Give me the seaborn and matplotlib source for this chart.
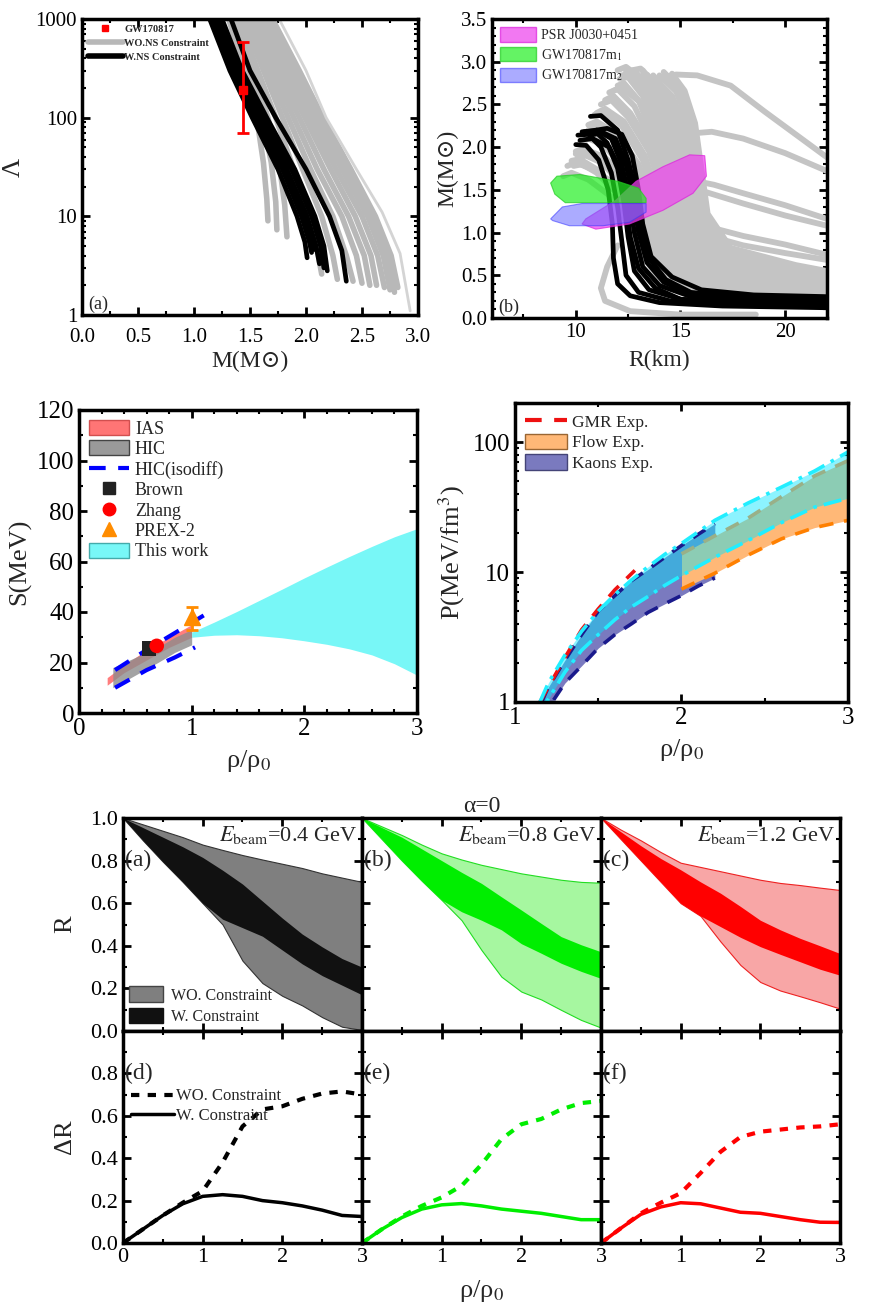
import pandas as pd
import seaborn as sns
import matplotlib.pyplot as plt
from matplotlib.patches import Patch
from matplotlib.lines import Line2D
from matplotlib.ticker import MultipleLocator, LogLocator, NullFormatter

# ---------------- data: (a) Lambda vs M ----------------
lam_gray = [
    ([1.31, 1.45, 1.56, 1.62, 1.65, 1.66], [1000, 300, 100, 35, 15, 9.0]),
    ([1.34, 1.49, 1.61, 1.69, 1.73, 1.74], [1000, 300, 100, 35, 14, 7.3]),
    ([1.37, 1.53, 1.66, 1.76, 1.81, 1.83], [1000, 300, 100, 35, 13, 6.2]),
    ([1.40, 1.57, 1.73, 1.89, 2.03, 2.11, 2.14], [1000, 300, 100, 30, 10, 4.0, 2.6]),
    ([1.44, 1.62, 1.79, 1.97, 2.14, 2.24, 2.28], [1000, 300, 100, 30, 10, 4.0, 2.3]),
    ([1.47, 1.66, 1.84, 2.04, 2.24, 2.36, 2.42], [1000, 300, 100, 30, 10, 4.0, 2.2]),
    ([1.50, 1.70, 1.89, 2.10, 2.32, 2.45, 2.50], [1000, 300, 100, 30, 10, 4.0, 2.1]),
    ([1.53, 1.74, 1.94, 2.16, 2.38, 2.52, 2.57], [1000, 300, 100, 30, 10, 4.0, 2.0]),
    ([1.56, 1.78, 1.99, 2.22, 2.44, 2.58, 2.63], [1000, 300, 100, 30, 10, 4.0, 2.0]),
    ([1.59, 1.82, 2.03, 2.27, 2.50, 2.64, 2.70], [1000, 300, 100, 30, 10, 4.0, 1.9]),
    ([1.62, 1.86, 2.07, 2.32, 2.55, 2.69, 2.75], [1000, 300, 100, 30, 10, 4.0, 1.8]),
    ([1.66, 1.90, 2.11, 2.36, 2.59, 2.73, 2.79], [1000, 300, 100, 30, 10, 4.0, 1.7]),
    ([1.70, 1.94, 2.15, 2.40, 2.62, 2.76, 2.82], [1000, 300, 100, 30, 10, 4.0, 1.9]),
]
lam_light = ([1.76, 2.00, 2.18, 2.45, 2.68, 2.84, 2.93], [1000, 300, 100, 30, 11, 4.2, 1.1])
lam_black = [
    ([1.14, 1.32, 1.52, 1.75, 1.92, 1.99, 2.01], [1000, 300, 100, 30, 10, 5.5, 3.8]),
    ([1.17, 1.35, 1.55, 1.79, 1.96, 2.03, 2.05], [1000, 300, 100, 30, 10, 5.5, 4.3]),
    ([1.19, 1.37, 1.57, 1.81, 1.98, 2.05, 2.07], [1000, 300, 100, 30, 10, 5.5, 4.6]),
    ([1.20, 1.38, 1.59, 1.83, 2.01, 2.09, 2.12], [1000, 300, 100, 30, 10, 5.0, 3.3]),
    ([1.22, 1.41, 1.62, 1.87, 2.05, 2.13, 2.16], [1000, 300, 100, 30, 10, 5.0, 3.0]),
    ([1.25, 1.43, 1.65, 1.90, 2.08, 2.16, 2.19], [1000, 300, 100, 30, 10, 5.0, 2.8]),
    ([1.33, 1.50, 1.73, 2.00, 2.21, 2.32, 2.36], [1000, 300, 100, 30, 10, 4.5, 2.2]),
]
gw_mass, gw_lam, gw_lo, gw_hi = 1.44, 190, 120, 390

# ---------------- data: (b) M vs R ----------------
mr_gray = [
    ([22, 16.5, 14.2, 13.2, 12.6, 11.8, 10.6, 9.8, 9.4], [0.26, 0.29, 0.40, 0.72, 1.05, 1.40, 1.62, 1.70, 1.66]),
    ([22, 16.8, 14.4, 13.3, 12.7, 12.0, 11.0, 10.2, 9.8], [0.29, 0.32, 0.43, 0.76, 1.12, 1.48, 1.74, 1.86, 1.84]),
    ([22, 17, 14.8, 13.6, 13.0, 12.2, 11.0, 10.0, 9.6], [0.30, 0.33, 0.45, 0.80, 1.20, 1.50, 1.72, 1.82, 1.78]),
    ([22, 17, 14.6, 13.4, 12.8, 12.0, 11.0, 10.3, 9.9], [0.28, 0.30, 0.42, 0.75, 1.10, 1.45, 1.70, 1.80, 1.78]),
    ([22, 16.8, 14.6, 13.5, 12.9, 12.2, 11.2, 10.4, 10.0], [0.29, 0.32, 0.44, 0.80, 1.18, 1.55, 1.84, 1.95, 1.92]),
    ([22, 17, 14.9, 13.7, 13.1, 12.4, 11.4, 10.5, 10.1], [0.27, 0.31, 0.44, 0.78, 1.15, 1.52, 1.80, 1.90, 1.88]),
    ([22, 17.2, 15.0, 13.8, 13.2, 12.5, 11.4, 10.4, 10.0], [0.31, 0.34, 0.47, 0.85, 1.25, 1.60, 1.88, 1.98, 1.95]),
    ([22, 17.4, 15.1, 13.9, 13.3, 12.6, 11.5, 10.8, 10.4], [0.31, 0.35, 0.48, 0.88, 1.28, 1.66, 1.98, 2.12, 2.08]),
    ([22, 17.5, 15.2, 14.0, 13.5, 12.8, 11.6, 10.6, 10.2], [0.32, 0.36, 0.50, 0.90, 1.30, 1.70, 2.00, 2.10, 2.05]),
    ([22, 17.8, 15.3, 14.1, 13.6, 12.9, 11.9, 11.0, 10.6], [0.33, 0.37, 0.51, 0.92, 1.35, 1.75, 2.10, 2.25, 2.20]),
    ([22, 18, 15.4, 14.2, 13.6, 13.0, 12.0, 11.0, 10.6], [0.34, 0.38, 0.52, 0.95, 1.40, 1.80, 2.15, 2.30, 2.26]),
    ([22, 17.9, 15.5, 14.3, 13.8, 13.2, 12.2, 11.3, 10.9], [0.34, 0.39, 0.53, 0.97, 1.42, 1.85, 2.25, 2.42, 2.38]),
    ([22, 18, 15.6, 14.4, 13.9, 13.3, 12.3, 11.4, 11.0], [0.35, 0.40, 0.55, 1.00, 1.45, 1.90, 2.30, 2.45, 2.40]),
    ([22, 18.2, 15.7, 14.6, 14.1, 13.5, 12.5, 11.7, 11.2], [0.37, 0.42, 0.57, 1.02, 1.50, 1.95, 2.35, 2.55, 2.50]),
    ([22, 18.4, 15.9, 14.7, 14.2, 13.7, 12.8, 12.0, 11.6], [0.37, 0.42, 0.59, 1.04, 1.52, 2.02, 2.48, 2.68, 2.64]),
    ([22, 18, 15.8, 14.9, 14.4, 13.6, 12.6, 11.8, 11.4], [0.40, 0.45, 0.60, 1.00, 1.50, 2.00, 2.40, 2.60, 2.55]),
    ([22, 18, 15.9, 15.0, 14.6, 14.0, 13.2, 12.2, 11.8], [0.36, 0.41, 0.58, 1.00, 1.48, 2.05, 2.50, 2.70, 2.66]),
    ([22, 18.5, 16, 14.8, 14.3, 13.8, 13.0, 12.3, 12.0], [0.38, 0.43, 0.60, 1.05, 1.55, 2.05, 2.55, 2.75, 2.72]),
    ([22, 18.7, 16.1, 15.0, 14.5, 14.0, 13.2, 12.5, 12.1], [0.40, 0.45, 0.62, 1.07, 1.57, 2.10, 2.60, 2.82, 2.80]),
    ([22, 18.9, 16.2, 15.1, 14.7, 14.2, 13.4, 12.6, 12.2], [0.41, 0.46, 0.64, 1.09, 1.59, 2.13, 2.62, 2.86, 2.84]),
    ([22, 19, 16.3, 15.2, 14.8, 14.3, 13.6, 12.8, 12.4], [0.42, 0.47, 0.65, 1.10, 1.60, 2.15, 2.65, 2.90, 2.88]),
    ([22, 19, 16.2, 15.3, 14.9, 14.5, 13.8, 12.9], [0.43, 0.49, 0.66, 1.08, 1.58, 2.12, 2.62, 2.86]),
    ([22, 19, 16.4, 15.4, 15.0, 14.4, 13.4, 12.4, 12.0], [0.44, 0.50, 0.68, 1.10, 1.60, 2.20, 2.75, 2.94, 2.90]),
    ([22, 19.2, 16.5, 15.4, 15.0, 14.6, 13.9, 13.1, 12.7], [0.45, 0.50, 0.68, 1.12, 1.62, 2.18, 2.68, 2.92, 2.90]),
    ([22, 19.4, 16.6, 15.6, 15.2, 14.7, 14.0, 13.2], [0.46, 0.52, 0.70, 1.14, 1.64, 2.20, 2.66, 2.90]),
    ([22, 19.5, 16.6, 15.6, 15.2, 14.8, 14.2, 13.4, 13.0], [0.46, 0.52, 0.70, 1.15, 1.65, 2.20, 2.65, 2.85, 2.82]),
    ([22, 19.7, 16.8, 15.8, 15.4, 15.0, 14.4, 13.7], [0.48, 0.54, 0.72, 1.17, 1.68, 2.22, 2.62, 2.84]),
    ([22, 20, 17, 16.0, 15.6, 15.2, 14.6, 13.8], [0.50, 0.56, 0.75, 1.20, 1.70, 2.25, 2.60, 2.80]),
    ([22, 20.2, 17.1, 16.1, 15.8, 15.4, 14.8, 14.0], [0.52, 0.58, 0.78, 1.20, 1.72, 2.27, 2.65, 2.84]),
    ([22, 20, 17.2, 16.2, 15.9, 15.5, 14.9, 14.2], [0.54, 0.60, 0.80, 1.20, 1.75, 2.30, 2.70, 2.88]),
    ([22, 20.5, 17.4, 16.3, 16.0, 15.7, 15.2, 14.6], [0.55, 0.62, 0.82, 1.22, 1.75, 2.28, 2.66, 2.86]),
    ([22, 19, 17.4, 15.8, 14.8, 13.8, 13.0], [1.88, 2.42, 2.72, 2.84, 2.85, 2.80, 2.72]),
    ([22, 20, 18, 16.5, 15.5, 14.5], [1.72, 1.93, 2.10, 2.18, 2.16, 2.08]),
    ([22, 20, 18, 16.6, 15.8], [1.16, 1.32, 1.46, 1.56, 1.60]),
    ([22, 20, 18, 16.4, 15.6], [1.08, 1.20, 1.34, 1.46, 1.52]),
    ([22, 20, 18, 16.6], [0.74, 0.86, 0.96, 1.05]),
    ([22, 20, 18, 16.5], [0.68, 0.76, 0.85, 0.95]),
    ([18.6, 15.0, 12.6, 11.4, 11.2, 11.5, 12.0], [0.04, 0.04, 0.08, 0.20, 0.35, 0.60, 0.85]),
]
mr_black = [
    ([22, 17, 14, 12.6, 12.0, 11.8, 11.75, 11.55, 11.1, 10.5, 10.0], [0.12, 0.14, 0.18, 0.26, 0.40, 0.70, 1.10, 1.50, 1.85, 2.02, 2.03]),
    ([22, 17, 14.5, 13.0, 12.4, 12.2, 12.0, 11.7, 11.2, 10.6, 10.1], [0.14, 0.16, 0.20, 0.30, 0.50, 0.90, 1.30, 1.70, 2.00, 2.15, 2.14]),
    ([22, 17.5, 15, 13.5, 12.8, 12.5, 12.3, 12.0, 11.5, 10.9, 10.3], [0.16, 0.18, 0.22, 0.33, 0.55, 0.95, 1.35, 1.75, 2.05, 2.19, 2.18]),
    ([22, 18, 15.5, 14.0, 13.2, 12.8, 12.55, 12.2, 11.7, 11.0, 10.4], [0.18, 0.20, 0.25, 0.38, 0.60, 1.00, 1.40, 1.80, 2.10, 2.20, 2.18]),
    ([22, 18, 15.5, 14.2, 13.4, 13.0, 12.75, 12.4, 11.9, 11.3, 10.7], [0.20, 0.22, 0.28, 0.42, 0.65, 1.00, 1.40, 1.80, 2.10, 2.17, 2.14]),
    ([22, 18, 15.5, 14.3, 13.5, 13.1, 12.9, 12.5, 12.0, 11.2, 10.7], [0.22, 0.24, 0.30, 0.45, 0.70, 1.05, 1.45, 1.85, 2.20, 2.37, 2.36]),
    ([22, 17.5, 15, 13.8, 13.0, 12.6, 12.4, 12.1, 11.6, 10.8, 10.2], [0.15, 0.17, 0.22, 0.35, 0.58, 0.95, 1.35, 1.75, 2.00, 2.10, 2.08]),
    ([22, 18.5, 16, 14.6, 13.6, 13.2, 13.0, 12.7, 12.2, 11.5, 11.0], [0.25, 0.27, 0.33, 0.48, 0.72, 1.10, 1.50, 1.90, 2.15, 2.22, 2.20]),
]
psr_r = [10.3, 10.96, 12.56, 14.16, 15.6, 16.24, 16.16, 15.44, 14.16, 12.88, 11.92, 10.48]
psr_m = [1.10, 1.04, 1.10, 1.26, 1.46, 1.66, 1.90, 1.91, 1.77, 1.60, 1.38, 1.16]
m1_r = [8.8, 9.1, 10.2, 12.0, 13.0, 13.36, 13.36, 9.5, 9.0]
m1_m = [1.58, 1.66, 1.68, 1.60, 1.52, 1.40, 1.35, 1.35, 1.45]
m2_r = [8.8, 9.36, 10.3, 13.36, 13.36, 12.56, 11.3, 9.7, 8.9]
m2_m = [1.16, 1.30, 1.34, 1.34, 1.24, 1.12, 1.08, 1.08, 1.14]

# ---------------- data: symmetry energy ----------------
ias_rho = [0.25, 0.4, 0.6, 0.8, 1.0]
ias_lo = [11, 16, 21, 26, 30]
ias_hi = [14, 19, 25, 30, 35]
hic_rho = [0.3, 0.5, 0.7, 0.85, 1.0]
hic_lo = [10, 15, 20, 24, 27]
hic_hi = [18, 22, 26, 30, 33]
iso_up_rho = [0.32, 0.6, 0.9, 1.12]
iso_up = [17, 25, 33, 39]
iso_lo_rho = [0.32, 0.6, 0.85, 1.03]
iso_lo = [10, 17, 22, 26]
brown = (0.62, 25.5)
zhang = (0.69, 26.6)
prex = (1.0, 38, 5, 4)
sym_rho = [1.0, 1.2, 1.4, 1.6, 1.8, 2.0, 2.2, 2.4, 2.6, 2.8, 3.0]
sym_hi = [32, 36, 40.2, 44.6, 49, 53.5, 57.8, 62, 66, 69.8, 73]
sym_lo = [30, 30.8, 31, 30.6, 29.8, 28.6, 27.2, 25.4, 23, 19.5, 15]

# ---------------- data: pressure ----------------
kaon_rho = [1.16, 1.2, 1.3, 1.4, 1.5, 1.6, 1.7, 1.8, 1.9, 2.0, 2.1, 2.2]
kaon_hi = [1.0, 1.3, 2.1, 3.3, 5.0, 6.6, 8.6, 10.5, 13, 16, 19.5, 23.6]
kaon_lo = [0.7, 0.9, 1.4, 1.9, 2.6, 3.3, 4.0, 4.9, 5.7, 6.6, 7.8, 9.0]
flow_rho = [2.0, 2.2, 2.4, 2.6, 2.8, 3.0]
flow_lo = [7.4, 9.8, 13.5, 18, 22, 25]
flow_hi = [13.8, 19, 26, 38, 55, 72]
gmr_rho = [1.15, 1.3, 1.4, 1.5, 1.6, 1.72]
gmr_p = [1.0, 2.2, 3.6, 5.2, 7.3, 10.3]
cy_rho = [1.15, 1.2, 1.3, 1.4, 1.5, 1.6, 1.7, 1.8, 1.9, 2.0, 2.2, 2.4, 2.6, 2.8, 3.0]
cy_hi = [1.0, 1.4, 2.3, 3.5, 5.0, 6.7, 8.7, 11, 13.7, 16.6, 25, 34, 45, 60, 84]
cy_lo = [0.8, 1.05, 1.7, 2.5, 3.3, 4.3, 5.4, 6.5, 7.9, 9.4, 13, 17.5, 24, 31.6, 37]

# ---------------- data: R and dR ----------------
rho = [0, 0.25, 0.5, 0.75, 1.0, 1.25, 1.5, 1.75, 2.0, 2.25, 2.5, 2.75, 3.0]
beams = ['0.4', '0.8', '1.2']
r_wo_up = [
    [1.0, 0.97, 0.94, 0.91, 0.875, 0.85, 0.826, 0.805, 0.785, 0.765, 0.74, 0.72, 0.70],
    [1.0, 0.96, 0.92, 0.875, 0.834, 0.805, 0.78, 0.76, 0.74, 0.725, 0.71, 0.70, 0.696],
    [1.0, 0.945, 0.895, 0.84, 0.79, 0.77, 0.75, 0.73, 0.71, 0.695, 0.685, 0.673, 0.662],
]
r_w_up = [
    [1.0, 0.955, 0.91, 0.865, 0.815, 0.755, 0.69, 0.61, 0.53, 0.455, 0.395, 0.34, 0.30],
    [1.0, 0.955, 0.91, 0.855, 0.80, 0.745, 0.693, 0.63, 0.568, 0.505, 0.443, 0.405, 0.372],
    [1.0, 0.935, 0.87, 0.81, 0.757, 0.70, 0.647, 0.585, 0.52, 0.475, 0.435, 0.40, 0.364],
]
r_w_lo = [
    [1.0, 0.895, 0.795, 0.70, 0.60, 0.525, 0.485, 0.445, 0.38, 0.315, 0.26, 0.215, 0.17],
    [1.0, 0.90, 0.80, 0.705, 0.615, 0.56, 0.52, 0.475, 0.41, 0.365, 0.318, 0.28, 0.247],
    [1.0, 0.90, 0.80, 0.70, 0.60, 0.54, 0.49, 0.44, 0.396, 0.36, 0.325, 0.29, 0.262],
]
r_wo_lo = [
    [1.0, 0.895, 0.795, 0.70, 0.60, 0.50, 0.33, 0.225, 0.165, 0.12, 0.065, 0.02, 0.005],
    [1.0, 0.90, 0.80, 0.705, 0.615, 0.52, 0.38, 0.255, 0.185, 0.148, 0.099, 0.052, 0.016],
    [1.0, 0.90, 0.80, 0.70, 0.60, 0.54, 0.42, 0.31, 0.23, 0.19, 0.163, 0.135, 0.105],
]
dr_wo = [
    [0, 0.065, 0.13, 0.19, 0.245, 0.38, 0.55, 0.63, 0.645, 0.68, 0.705, 0.715, 0.70],
    [0, 0.065, 0.125, 0.175, 0.215, 0.27, 0.37, 0.49, 0.56, 0.585, 0.63, 0.66, 0.67],
    [0, 0.07, 0.14, 0.19, 0.235, 0.33, 0.43, 0.50, 0.525, 0.535, 0.545, 0.55, 0.56],
]
dr_w = [
    [0, 0.065, 0.13, 0.185, 0.22, 0.228, 0.22, 0.20, 0.19, 0.175, 0.155, 0.13, 0.125],
    [0, 0.065, 0.12, 0.16, 0.18, 0.186, 0.175, 0.16, 0.15, 0.14, 0.125, 0.11, 0.11],
    [0, 0.07, 0.135, 0.17, 0.19, 0.185, 0.165, 0.145, 0.14, 0.125, 0.11, 0.098, 0.097],
]
band_colors = [('#7f7f7f', '#111111', '#333333'),
               ('#a6f7a0', '#00ee00', '#22dd22'),
               ('#f8a6a6', '#ff0000', '#ee2222')]
line_colors = ['black', '#00ee00', '#ff0000']

# ---------------- style ----------------
sns.set_theme(style="ticks")
plt.rcParams['font.family'] = ['Liberation Serif', 'DejaVu Serif']
plt.rcParams['mathtext.fontset'] = 'stix'

W, H = 870, 1306
fig = plt.figure(figsize=(W / 100, H / 100), dpi=100)


def px_axes(l, t, r, b):
    return fig.add_axes([l / W, 1 - b / H, (r - l) / W, (b - t) / H])


def style(ax, fs):
    ax.tick_params(which='both', direction='in', top=True, right=True,
                   labelsize=fs, colors='black')
    ax.tick_params(which='major', length=6, width=2)
    ax.tick_params(which='minor', length=3, width=1.5)
    for s in ax.spines.values():
        s.set_linewidth(2.5)
        s.set_color('black')


def curves_df(curves):
    rows = []
    for i, (xs, ys) in enumerate(curves):
        for x, y in zip(xs, ys):
            rows.append((i, x, y))
    return pd.DataFrame(rows, columns=['curve', 'x', 'y'])


def draw_curves(ax, curves, color, lw):
    sns.lineplot(data=curves_df(curves), x='x', y='y', units='curve', estimator=None,
                 sort=False, color=color, lw=lw, ax=ax, legend=False)


# ---- (a) Lambda-M ----
ax = px_axes(82, 19, 418, 315)
ax.set_yscale('log')
draw_curves(ax, lam_gray, '#b8b8b8', 4.0)
draw_curves(ax, [lam_light], '#d4d4d4', 2.0)
draw_curves(ax, lam_black, 'black', 3.4)
ax.errorbar(gw_mass, gw_lam, yerr=[[gw_lo], [gw_hi]], fmt='s', color='red', ms=6,
            capsize=4, elinewidth=2, capthick=2)
ax.set_xlim(0, 3)
ax.set_ylim(1, 1000)
ax.xaxis.set_major_locator(MultipleLocator(0.5))
ax.xaxis.set_minor_locator(MultipleLocator(0.25))
ax.yaxis.set_minor_locator(LogLocator(subs=range(2, 10)))
ax.yaxis.set_minor_formatter(NullFormatter())
ax.set_yticks([1, 10, 100, 1000], ['1', '10', '100', '1000'])
ax.xaxis.set_major_formatter(plt.FormatStrFormatter('%.1f'))
style(ax, 15)
ax.tick_params(axis='x', pad=9)
ax.set_xlabel('M(M⊙)', fontsize=17, labelpad=3)
ax.set_ylabel('Λ', fontsize=19, labelpad=8)
ax.text(0.02, 0.02, '(a)', transform=ax.transAxes, fontsize=13)
h = [Line2D([], [], marker='s', color='red', ls='none', ms=5),
     Line2D([], [], color='#b8b8b8', lw=4),
     Line2D([], [], color='black', lw=4)]
ax.legend(h, ['GW170817', 'WO.NS Constraint', 'W.NS Constraint'], loc='upper left',
          frameon=False, handlelength=3.4, borderaxespad=0.15,
          labelspacing=0.45, handletextpad=0.1, prop={'weight': 'bold', 'size': 7.5})

# ---- (b) M-R ----
ax = px_axes(492, 19, 827, 318)
draw_curves(ax, mr_gray, '#c4c4c4', 4.2)
draw_curves(ax, mr_black, 'black', 3.4)
ax.fill(psr_r, psr_m, color='#ee44ee', alpha=0.72, ec='#dd22dd', lw=0.8, zorder=5)
ax.fill(m1_r, m1_m, color='#22ee22', alpha=0.7, ec='#22cc22', lw=0.8, zorder=5)
ax.fill(m2_r, m2_m, color='#6666ff', alpha=0.55, ec='#3333ff', lw=0.8, zorder=5)
ax.set_xlim(6, 22)
ax.set_ylim(0, 3.5)
ax.xaxis.set_major_locator(MultipleLocator(5))
ax.xaxis.set_minor_locator(MultipleLocator(2.5))
ax.yaxis.set_major_locator(MultipleLocator(0.5))
ax.yaxis.set_minor_locator(MultipleLocator(0.1))
ax.yaxis.set_major_formatter(plt.FormatStrFormatter('%.1f'))
style(ax, 15)
ax.set_xlabel('R(km)', fontsize=17, labelpad=6)
ax.set_ylabel('M(M⊙)', fontsize=17, labelpad=2)
ax.text(0.02, 0.02, '(b)', transform=ax.transAxes, fontsize=13)
h = [Patch(fc='#ee44ee', ec='#dd22dd', alpha=0.72),
     Patch(fc='#22ee22', ec='#22cc22', alpha=0.7),
     Patch(fc='#6666ff', ec='#3333ff', alpha=0.55)]
ax.legend(h, ['PSR J0030+0451', 'GW170817m$_1$', 'GW170817m$_2$'], loc='upper left',
          fontsize=10, frameon=False, handlelength=2.6, handleheight=1.2,
          borderaxespad=0.2, labelspacing=0.35, handletextpad=0.3)

# ---- symmetry energy ----
ax = px_axes(79, 410, 417, 713)
ax.fill_between(ias_rho, ias_lo, ias_hi, color='#ff6666', alpha=0.85, lw=0)
ax.fill_between(hic_rho, hic_lo, hic_hi, color='#8c8c8c', alpha=0.8, lw=0)
ax.fill_between(sym_rho, sym_lo, sym_hi, color='#78f7f7', lw=0)
iso = pd.DataFrame({'x': iso_up_rho + iso_lo_rho, 'y': iso_up + iso_lo,
                    'curve': [0] * len(iso_up) + [1] * len(iso_lo)})
sns.lineplot(data=iso, x='x', y='y', units='curve', estimator=None, color='blue',
             lw=3, linestyle=(0, (4, 3)), ax=ax, legend=False)
sns.scatterplot(x=[brown[0]], y=[brown[1]], marker='s', color='#222222', s=110,
                ax=ax, zorder=6, edgecolor='none')
sns.scatterplot(x=[zhang[0]], y=[zhang[1]], marker='o', color='red', s=110,
                ax=ax, zorder=6, edgecolor='none')
ax.errorbar(prex[0], prex[1], yerr=[[prex[2]], [prex[3]]], fmt='^', color='#ff8c00',
            ms=11, capsize=4, elinewidth=2, capthick=2, zorder=7)
ax.set_xlim(0, 3)
ax.set_ylim(0, 120)
ax.xaxis.set_major_locator(MultipleLocator(1))
ax.xaxis.set_minor_locator(MultipleLocator(0.2))
ax.yaxis.set_major_locator(MultipleLocator(20))
ax.yaxis.set_minor_locator(MultipleLocator(10))
style(ax, 18)
ax.set_xlabel('ρ/ρ$_0$', fontsize=19, labelpad=6)
ax.set_ylabel('S(MeV)', fontsize=19, labelpad=4)
h = [Patch(fc='#ff6666', ec='#cc4444', alpha=0.9),
     Patch(fc='#9a9a9a', ec='#444444'),
     Line2D([], [], color='blue', lw=3, ls=(0, (4, 3))),
     Line2D([], [], marker='s', color='#222222', ls='none', ms=8),
     Line2D([], [], marker='o', color='red', ls='none', ms=9),
     Line2D([], [], marker='^', color='#ff8c00', ls='none', ms=10),
     Patch(fc='#78f7f7', ec='#44aaaa')]
ax.legend(h, ['IAS', 'HIC', 'HIC(isodiff)', 'Brown', 'Zhang', 'PREX-2', 'This work'],
          loc='upper left', fontsize=13, frameon=False, handlelength=2.2,
          handleheight=0.9, borderaxespad=0.15, labelspacing=0.15, handletextpad=0.35)

# ---- pressure ----
ax = px_axes(515, 403, 848, 702)
ax.set_yscale('log')
ax.fill_between(kaon_rho, kaon_lo, kaon_hi, color='#7a7abf', lw=0)
ax.fill_between(flow_rho, flow_lo, flow_hi, color='#ffb877', lw=0)
ax.fill_between(cy_rho, cy_lo, cy_hi, color='#00e5ff', alpha=0.45, lw=0)
bounds = [(kaon_rho, kaon_hi, '#1a1a8c', (0, (4, 3))),
          (kaon_rho, kaon_lo, '#1a1a8c', (0, (4, 3))),
          (flow_rho, flow_lo, '#ff8000', (0, (4, 3))),
          (flow_rho, flow_hi, '#99b088', (0, (4, 3))),
          (gmr_rho, gmr_p, '#ee1111', (0, (4, 3))),
          (cy_rho, cy_hi, '#22eeff', (0, (5, 2, 1, 2))),
          (cy_rho, cy_lo, '#22eeff', (0, (5, 2, 1, 2)))]
for xs, ys, c, ls in bounds:
    sns.lineplot(x=xs, y=ys, color=c, lw=2.6, linestyle=ls, ax=ax, legend=False)
ax.set_xlim(1, 3)
ax.set_ylim(1, 200)
ax.xaxis.set_major_locator(MultipleLocator(1))
ax.xaxis.set_minor_locator(MultipleLocator(0.5))
ax.yaxis.set_minor_locator(LogLocator(subs=range(2, 10)))
ax.yaxis.set_minor_formatter(NullFormatter())
ax.set_yticks([1, 10, 100], ['1', '10', '100'])
style(ax, 18)
ax.set_xlabel('ρ/ρ$_0$', fontsize=19, labelpad=6)
ax.set_ylabel('P(MeV/fm$^3$)', fontsize=19, labelpad=4)
h = [Line2D([], [], color='#ee1111', lw=3, ls=(0, (4, 3))),
     Patch(fc='#ffb877', ec='#996633'),
     Patch(fc='#7a7abf', ec='#444477')]
ax.legend(h, ['GMR Exp.', 'Flow Exp.', 'Kaons Exp.'], loc='upper left', fontsize=12.5,
          frameon=False, handlelength=2.4, handleheight=1.0, borderaxespad=0.2,
          labelspacing=0.15, handletextpad=0.3)

# ---- R and dR grid ----
cols = [(123, 362), (362, 601), (601, 840)]
top_labels = ['(a)', '(b)', '(c)']
bot_labels = ['(d)', '(e)', '(f)']
for j, (l, r) in enumerate(cols):
    wo_c, w_c, edge_c = band_colors[j]
    ax = px_axes(l, 818, r, 1031)
    ax.fill_between(rho, r_wo_lo[j], r_wo_up[j], color=wo_c, ec=edge_c, lw=0.8)
    ax.fill_between(rho, r_w_lo[j], r_w_up[j], color=w_c, lw=0)
    ax.set_xlim(0, 3)
    ax.set_ylim(0, 1.0)
    ax.xaxis.set_major_locator(MultipleLocator(1))
    ax.xaxis.set_minor_locator(MultipleLocator(0.5))
    ax.yaxis.set_major_locator(MultipleLocator(0.2))
    ax.yaxis.set_minor_locator(MultipleLocator(0.1))
    ax.yaxis.set_major_formatter(plt.FormatStrFormatter('%.1f'))
    style(ax, 16)
    ax.tick_params(labelbottom=False)
    if j > 0:
        ax.tick_params(labelleft=False)
    else:
        ax.set_ylabel('R', fontsize=19, labelpad=10)
    ax.text(0.01, 0.8, top_labels[j], transform=ax.transAxes, fontsize=17, va='center')
    ax.text(0.98, 0.97, r'$E_{\rm beam}$=' + beams[j] + ' GeV', transform=ax.transAxes,
            fontsize=16, ha='right', va='top')
    if j == 0:
        h = [Patch(fc=wo_c, ec='#444444'), Patch(fc=w_c, ec='#111111')]
        ax.legend(h, ['WO. Constraint', 'W. Constraint'], loc='lower left',
                  fontsize=11.5, frameon=False, handlelength=2.1, handleheight=1.1,
                  borderaxespad=0.0, labelspacing=0.25, handletextpad=0.5)
    if j == 1:
        ax.set_title('α=0', fontsize=17, pad=4)

    ax = px_axes(l, 1031, r, 1243)
    sns.lineplot(x=rho, y=dr_wo[j], color=line_colors[j], lw=3,
                 linestyle=(0, (2, 2)), ax=ax, legend=False)
    sns.lineplot(x=rho, y=dr_w[j], color=line_colors[j], lw=2.5, ax=ax, legend=False)
    ax.set_xlim(0, 3)
    ax.set_ylim(0, 1.0)
    ax.xaxis.set_major_locator(MultipleLocator(1))
    ax.xaxis.set_minor_locator(MultipleLocator(0.5))
    ax.set_yticks([0, 0.2, 0.4, 0.6, 0.8], ['0.0', '0.2', '0.4', '0.6', '0.8'])
    ax.yaxis.set_minor_locator(MultipleLocator(0.1))
    style(ax, 16)
    if j > 0:
        ax.tick_params(labelleft=False)
        ax.set_xticks([0, 1, 2, 3], ['', '1', '2', '3'])
    else:
        ax.set_xticks([0, 1, 2, 3], ['0', '1', '2', '3'])
        ax.set_ylabel('ΔR', fontsize=19, labelpad=10)
        h = [Line2D([], [], color='black', lw=3, ls=(0, (2, 2))),
             Line2D([], [], color='black', lw=2.5)]
        ax.legend(h, ['WO. Constraint', 'W. Constraint'], loc='upper left',
                  bbox_to_anchor=(-0.03, 0.8), fontsize=12, frameon=False,
                  handlelength=2.6, labelspacing=0.2, handletextpad=0.1)
    if j == 1:
        ax.set_xlabel('ρ/ρ$_0$', fontsize=19, labelpad=8)
    ax.text(0.01, 0.8, bot_labels[j], transform=ax.transAxes, fontsize=17, va='center')

fig.savefig('out.png', dpi=100)
